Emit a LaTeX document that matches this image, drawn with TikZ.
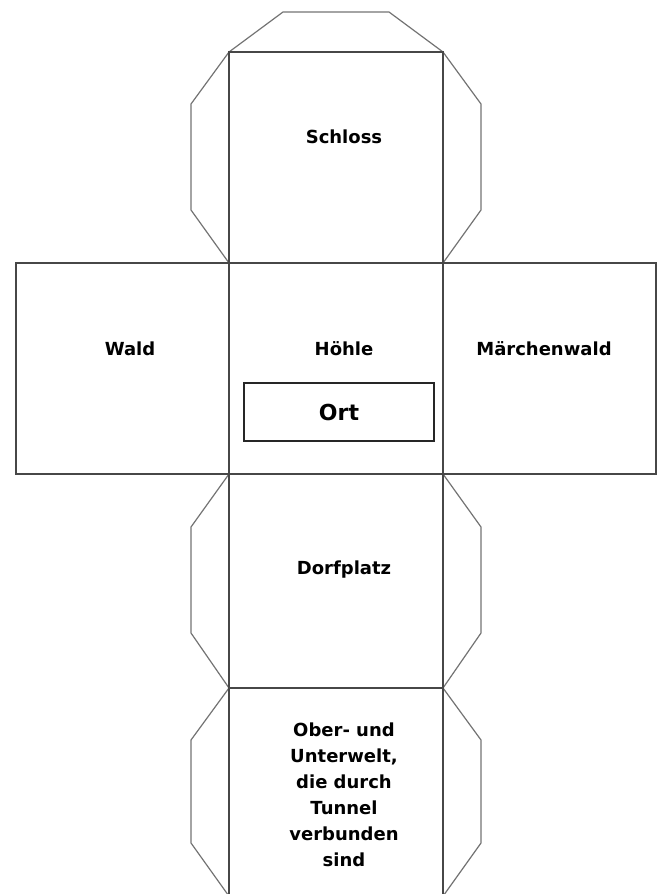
\documentclass[tikz,border=0pt]{standalone}
\usepackage{fontspec}
\setmainfont{DejaVu Sans}
\begin{document}
\begin{tikzpicture}[x=1pt,y=-1pt,
  face/.style={draw=black!72,line width=1.4pt},
  flap/.style={draw=black!55,line width=1.2pt,line join=round},
  lbl/.style={font=\fontsize{18}{26}\selectfont\bfseries,align=center,text=black},
  ortbox/.style={draw=black!85,line width=1.3pt}]
\useasboundingbox (0,0) rectangle (663,894);
\begin{scope}
\clip (0,0) rectangle (663,894);
% flaps
\draw[flap] (229,52) -- (283,12) -- (389,12) -- (443,52);
\draw[flap] (229,52) -- (191,104) -- (191,210) -- (229,263);
\draw[flap] (443,52) -- (481,104) -- (481,210) -- (443,263);
\draw[flap] (229,474) -- (191,527) -- (191,633) -- (229,688);
\draw[flap] (443,474) -- (481,527) -- (481,633) -- (443,688);
\draw[flap] (229,688) -- (191,740) -- (191,843) -- (231,899);
\draw[flap] (443,688) -- (481,740) -- (481,843) -- (441,899);
% faces
\draw[face] (229,52) rectangle (443,263);
\draw[face] (16,263) rectangle (229,474);
\draw[face] (229,263) rectangle (443,474);
\draw[face] (443,263) rectangle (656,474);
\draw[face] (229,474) rectangle (443,688);
\draw[face] (229,688) -- (229,900);
\draw[face] (443,688) -- (443,900);
\draw[face] (229,688) -- (443,688);
\end{scope}
% Ort box
\node[ortbox,minimum width=190pt,minimum height=58pt,inner sep=0pt] (ort) at (339,412) {};
\node[font=\fontsize{22}{26}\selectfont\bfseries] (orttxt) at (339,412) {Ort};
% labels
\node[lbl] (schloss) at (344,137) {Schloss};
\node[lbl] (wald) at (130,349) {Wald};
\node[lbl] (hoehle) at (344,349) {Höhle};
\node[lbl] (maerchen) at (544,349) {Märchenwald};
\node[lbl] (dorf) at (344,570) {Dorfplatz};
\node[lbl] (unter) at (344,795) {Ober- und\\Unterwelt,\\die durch\\Tunnel\\verbunden\\sind};
\end{tikzpicture}
\end{document}
